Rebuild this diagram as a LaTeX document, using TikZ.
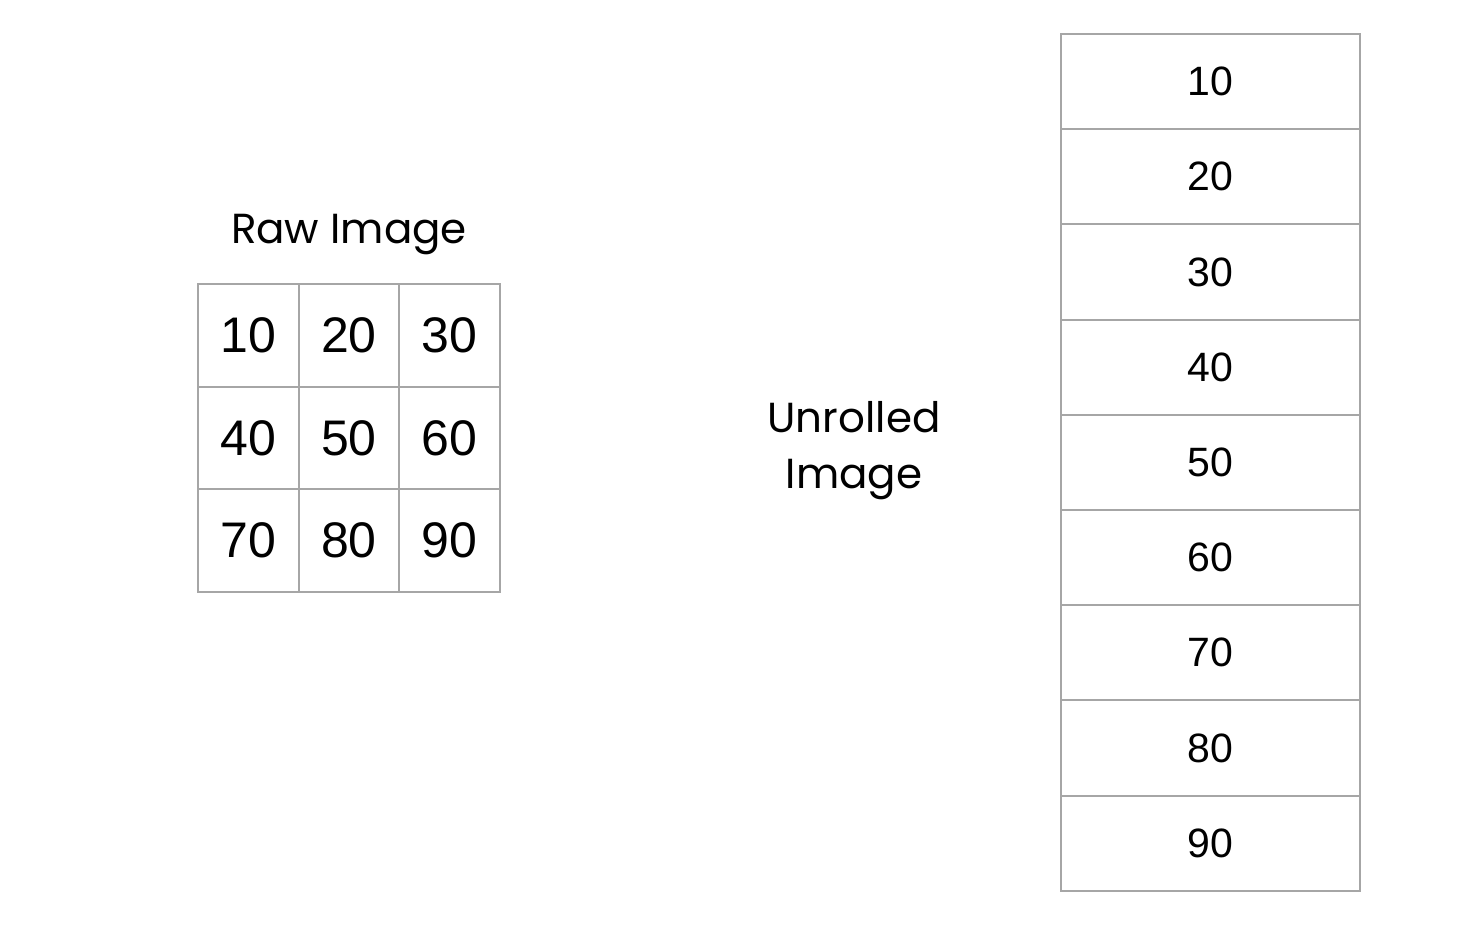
\documentclass[tikz,border=0pt]{standalone}
\usepackage{fontspec}
\setmainfont{Liberation Sans}
\newfontfamily\labelfont{Poppins}
\usepackage{tikz}

\tikzset{
	cell/.style={draw=gray!70,line width=1pt,inner sep=0pt,minimum width=50.3pt,minimum height=51.3pt,font=\fontsize{25}{30}\selectfont},
	slot/.style={draw=gray!70,line width=1pt,inner sep=0pt,minimum width=149.5pt,minimum height=47.6pt,font=\fontsize{20.5}{24}\selectfont},
	caption/.style={align=center,font=\labelfont\fontsize{21}{28}\selectfont}
}

\begin{document}
\begin{tikzpicture}[x=0.5pt,y=-0.5pt]
	\useasboundingbox (0,0) rectangle (1482,926);

	\node[caption](raw) at (349,235) {Raw Image};
	\node[cell](a) at (248.5,335.5) {10};
	\node[cell](b) at (349,335.5) {20};
	\node[cell](c) at (449.5,335.5) {30};
	\node[cell](d) at (248.5,438) {40};
	\node[cell](e) at (349,438) {50};
	\node[cell](f) at (449.5,438) {60};
	\node[cell](g) at (248.5,540.5) {70};
	\node[cell](h) at (349,540.5) {80};
	\node[cell](i) at (449.5,540.5) {90};

	\node[caption](unrolled) at (854,451) {Unrolled\\Image};
	\node[slot](u1) at (1210.5,81.6) {10};
	\node[slot](u2) at (1210.5,176.8) {20};
	\node[slot](u3) at (1210.5,272) {30};
	\node[slot](u4) at (1210.5,367.2) {40};
	\node[slot](u5) at (1210.5,462.4) {50};
	\node[slot](u6) at (1210.5,557.6) {60};
	\node[slot](u7) at (1210.5,652.8) {70};
	\node[slot](u8) at (1210.5,748) {80};
	\node[slot](u9) at (1210.5,843.2) {90};
\end{tikzpicture}
\end{document}
